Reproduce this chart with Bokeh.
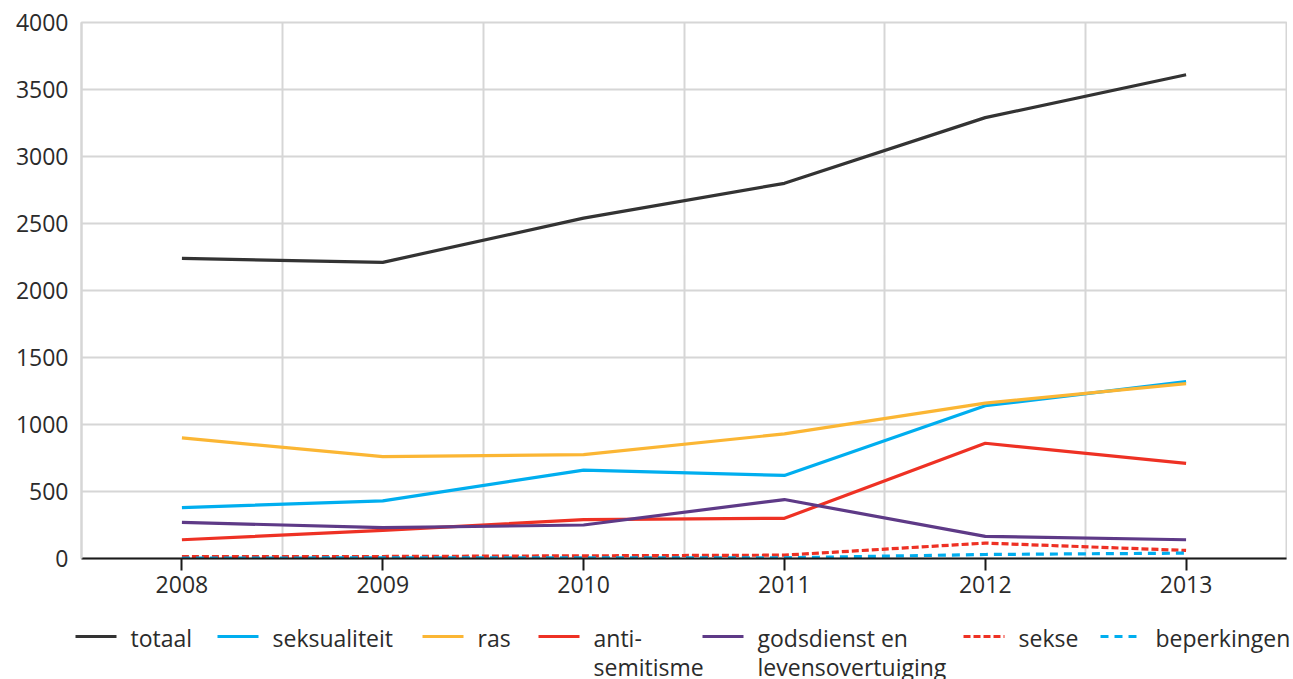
from bokeh.plotting import figure
from bokeh.models import FixedTicker, Range1d
from bokeh.layouts import column, row
from bokeh.core.properties import value
from bokeh.embed import file_html
from bokeh.resources import INLINE

# ---- data ----
years = [2008, 2009, 2010, 2011, 2012, 2013]
totaal = [2240, 2210, 2540, 2800, 3290, 3610]
seksualiteit = [380, 430, 660, 620, 1140, 1320]
ras = [900, 760, 775, 930, 1160, 1305]
antisemitisme = [140, 210, 290, 300, 860, 710]
godsdienst = [270, 230, 250, 440, 165, 140]
sekse = [15, 15, 20, 25, 115, 60]
beperkingen = [2, 5, 5, 5, 30, 40]

y_ticks = [0, 500, 1000, 1500, 2000, 2500, 3000, 3500, 4000]

series_names = ["totaal", "seksualiteit", "ras", "anti-\nsemitisme",
                "godsdienst en\nlevensovertuiging", "sekse", "beperkingen"]
series_values = [totaal, seksualiteit, ras, antisemitisme, godsdienst, sekse, beperkingen]
colors = ["#333333", "#00aeef", "#fbb634", "#ee3124", "#5e3a87", "#ee3124", "#00aeef"]
dashes = ["solid", "solid", "solid", "solid", "solid", "7 3", "8 6"]

FONT = "Open Sans"
FS = "23px"
TXT = "#2b2b2b"

p = figure(width=1287, height=606, output_backend="svg", toolbar_location=None,
           x_range=Range1d(2007.5, 2013.5), y_range=Range1d(0, 4000),
           min_border_left=81, min_border_top=22, min_border_bottom=48,
           min_border_right=1)
p.background_fill_color = "white"
p.border_fill_color = "white"
p.outline_line_color = "#d6d6d6"
p.outline_line_width = 2

for vals, c, d in zip(series_values, colors, dashes):
    p.line(years, vals, line_color=c, line_width=3.2, line_dash=d)

# grids
p.xgrid.ticker = FixedTicker(ticks=[y + 0.5 for y in years])
p.xgrid.grid_line_color = "#d6d6d6"
p.xgrid.grid_line_width = 2
p.ygrid.ticker = FixedTicker(ticks=y_ticks)
p.ygrid.grid_line_color = "#d6d6d6"
p.ygrid.grid_line_width = 2

# x axis
xa = p.xaxis[0]
xa.ticker = FixedTicker(ticks=years)
xa.axis_line_color = "#1a1a1a"
xa.axis_line_width = 2
xa.major_tick_line_color = "#1a1a1a"
xa.major_tick_line_width = 2
xa.major_tick_in = 0
xa.major_tick_out = 12
xa.minor_tick_line_color = None
xa.major_label_standoff = 5
xa.major_label_text_font = FONT
xa.major_label_text_font_size = FS
xa.major_label_text_color = TXT

# y axis
ya = p.yaxis[0]
ya.ticker = FixedTicker(ticks=y_ticks)
ya.axis_line_color = "#d6d6d6"
ya.axis_line_width = 2
ya.major_tick_line_color = None
ya.major_tick_out = 0
ya.major_tick_in = 0
ya.minor_tick_line_color = None
ya.major_label_standoff = 13
ya.major_label_text_font = FONT
ya.major_label_text_font_size = FS
ya.major_label_text_color = TXT

# ---- legend (separate strip below the chart) ----
LW, LH = 1293, 73
lg = figure(width=LW, height=LH, output_backend="svg", toolbar_location=None,
            x_range=Range1d(0, LW), y_range=Range1d(LH, 0),
            x_axis_type=None, y_axis_type=None, min_border=0)
lg.outline_line_color = None
lg.background_fill_color = "white"
lg.border_fill_color = "white"

glyph_x0 = [75, 217, 422, 538, 702, 963, 1100]
row1 = 30
row_gap = 29
for name, c, d, gx in zip(series_names, colors, dashes, glyph_x0):
    lg.line([gx, gx + 41], [row1, row1], line_color=c, line_width=3.2, line_dash=d)
    for i, part in enumerate(name.split("\n")):
        lg.text(x=[gx + 55], y=[row1 + 1 + i * row_gap], text=[part],
                text_font=value(FONT), text_font_size=FS,
                text_color=TXT, text_baseline="middle", text_align="left")

layout = column(p, row(lg), spacing=0)
open("out.html", "w").write(file_html(layout, INLINE))
